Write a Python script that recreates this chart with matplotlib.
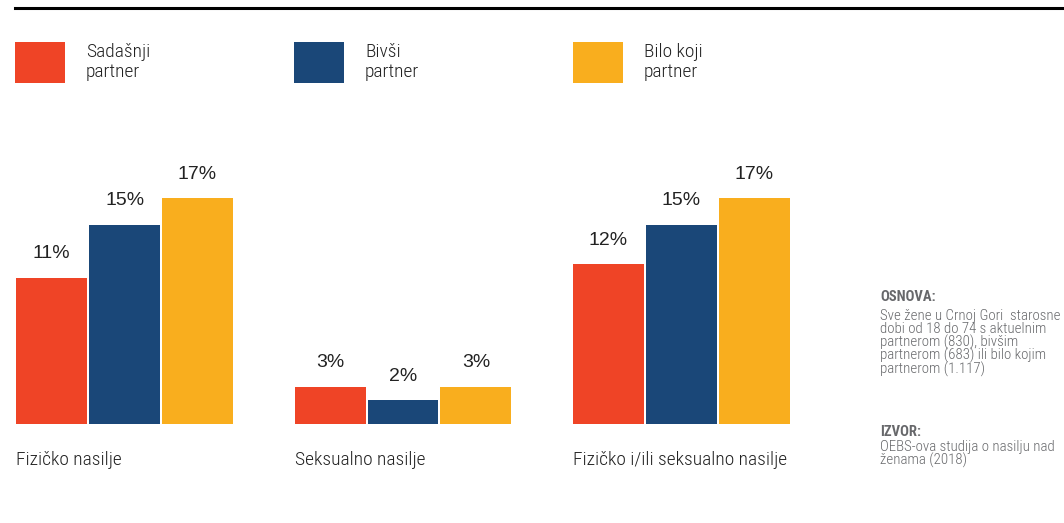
import matplotlib.pyplot as plt
import numpy as np

# data
categories = ['Fizičko nasilje', 'Seksualno nasilje', 'Fizičko i/ili seksualno nasilje']
series_names = ['Sadašnji\npartner', 'Bivši\npartner', 'Bilo koji\npartner']
sadasnji = [11, 2.8, 12]
bivsi = [15, 1.8, 15]
bilo_koji = [17, 2.8, 17]
colors = ['#EF4426', '#1A4778', '#F9AE1E']

note_osnova = ('Sve žene u Crnoj Gori  starosne\ndobi od 18 do 74 s aktuelnim\n'
               'partnerom (830), bivšim\npartnerom (683) ili bilo kojim\npartnerom (1.117)')
note_izvor = 'OEBS-ova studija o nasilju nad\nženama (2018)'

FONT = ['Roboto Condensed', 'DejaVu Sans']
plt.rcParams['font.family'] = FONT

W, H = 1064, 523
fig = plt.figure(figsize=(W / 100, H / 100), dpi=100)

# axes placed in pixel terms: x 16..790, baseline at y=424 from top
ax = fig.add_axes([16 / W, (H - 424) / H, 774 / W, 266 / H])
ax.set_xlim(-0.39, 2.39)
ax.set_ylim(0, 20)
ax.axis('off')

x = np.arange(len(categories))
width = 0.255
step = 0.262
for i, (vals, c) in enumerate(zip([sadasnji, bivsi, bilo_koji], colors)):
    bars = ax.bar(x + (i - 1) * step, vals, width=width, color=c, linewidth=0)
    for b, v in zip(bars, vals):
        ax.annotate('{}%'.format(int(round(v))), (b.get_x() + b.get_width() / 2, b.get_height()),
                    xytext=(0, 11), textcoords='offset points', ha='center', va='bottom',
                    fontsize=14, color='#222222', family=['Liberation Sans', 'DejaVu Sans'])

# category labels under each group
for i, cat in enumerate(categories):
    ax.annotate(cat, (x[i] - step - width / 2, 0), xytext=(0, -26), textcoords='offset points',
                ha='left', va='center', fontsize=14, color='#222222', fontweight=300)

# top rule
fig.add_artist(plt.Line2D([15 / W, 1.0], [(H - 8) / H] * 2, color='black', lw=2.2))

# legend squares
leg_x = [15, 294, 573]
for lx, name, c in zip(leg_x, series_names, colors):
    fig.add_artist(plt.Rectangle((lx / W, (H - 83) / H), 50 / W, 41 / H,
                                 color=c, transform=fig.transFigure, lw=0))
    fig.text((lx + 71) / W, (H - 62) / H, name, ha='left', va='center',
             fontsize=14, color='#222222', linespacing=1.2, fontweight=300)

# side note
gray = '#67686b'
fig.text(880 / W, (H - 297) / H, 'OSNOVA:', fontsize=10.5, fontweight='bold', color=gray,
         ha='left', va='center')
fig.text(880 / W, (H - 309) / H, note_osnova, fontsize=10.7, color=gray, ha='left', va='top',
         linespacing=0.88, fontweight=300)
fig.text(880 / W, (H - 432) / H, 'IZVOR:', fontsize=10.5, fontweight='bold', color=gray,
         ha='left', va='center')
fig.text(880 / W, (H - 440) / H, note_izvor, fontsize=10.7, color=gray, ha='left', va='top',
         linespacing=0.88, fontweight=300)

plt.savefig('out.png', dpi=100)
